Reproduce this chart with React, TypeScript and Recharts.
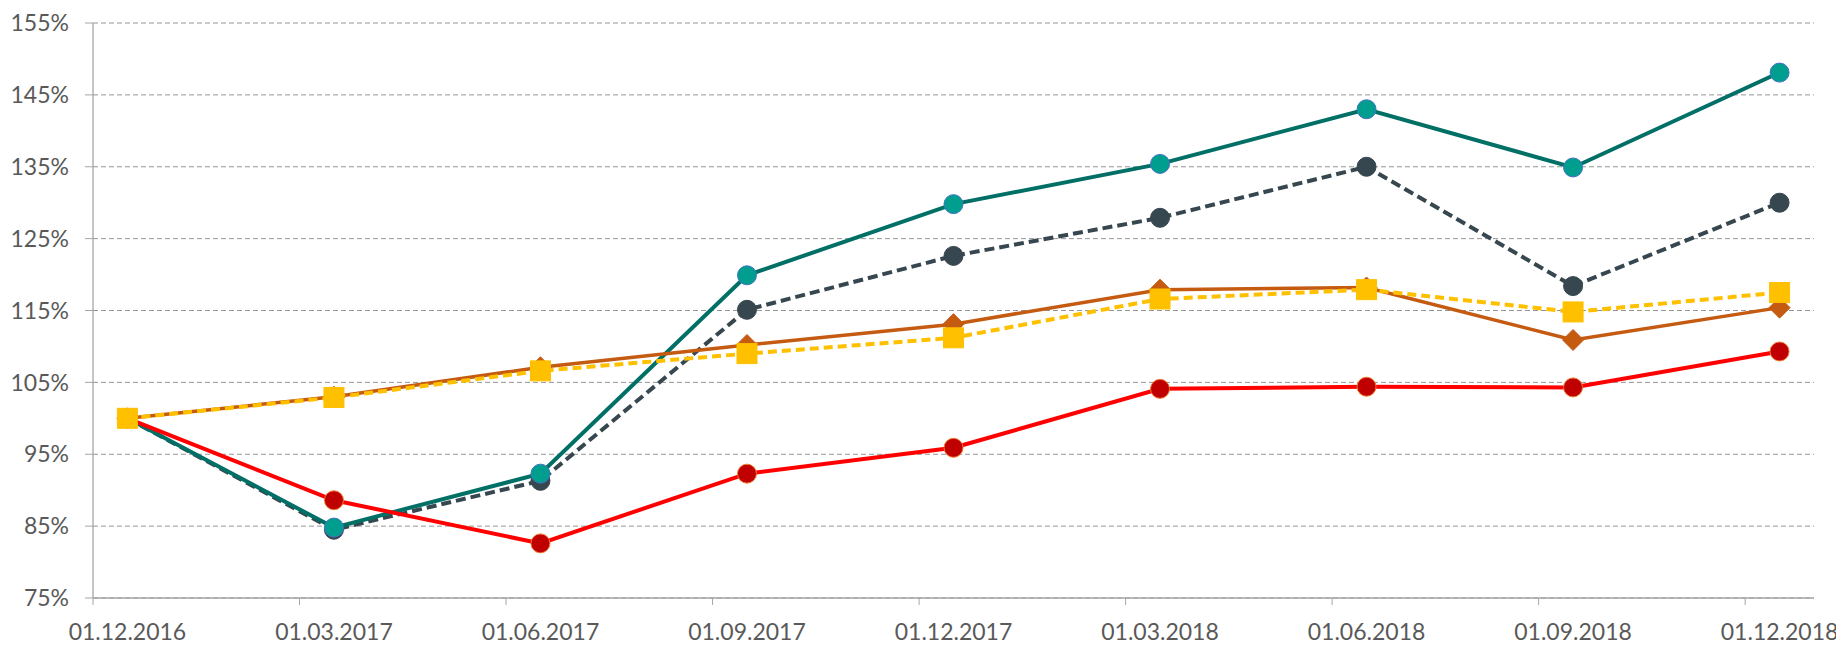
import React from 'react';
import { LineChart, Line, XAxis, YAxis, CartesianGrid } from 'recharts';

const CATEGORIES = ['01.12.2016', '01.03.2017', '01.06.2017', '01.09.2017', '01.12.2017', '01.03.2018', '01.06.2018', '01.09.2018', '01.12.2018'];
// monthly category slots between Dec 2016 and Dec 2018 (25 months); data every 3rd month
const MONTH_SLOTS = 25;
const STEP = 3;

const TEAL = [100, 84.8, 92.3, 119.9, 129.8, 135.4, 143.0, 134.9, 148.1];
const DARK = [100, 84.5, 91.3, 115.1, 122.6, 127.9, 135.0, 118.4, 130.0];
const ORANGE = [100, 103.0, 107.1, 110.2, 113.1, 117.9, 118.2, 110.9, 115.4];
const YELLOW = [100, 102.9, 106.6, 109.0, 111.2, 116.6, 117.9, 114.8, 117.5];
const RED = [100, 88.6, 82.6, 92.3, 95.9, 104.1, 104.4, 104.3, 109.3];

const Y_TICKS = [75, 85, 95, 105, 115, 125, 135, 145, 155];

const data = CATEGORIES.map((c, i) => ({
  x: i * STEP + 0.5,
  label: c,
  teal: TEAL[i],
  dark: DARK[i],
  orange: ORANGE[i],
  yellow: YELLOW[i],
  red: RED[i],
}));
const X_TICKS = data.map((d) => d.x);

const CHART_W = 1836;
const CHART_H = 637;
const MARGIN = { top: 15, right: 30, bottom: 0, left: 0 };
const Y_AXIS_W = 85;
const X_AXIS_H = 47;
const PLOT_W = CHART_W - MARGIN.left - MARGIN.right - Y_AXIS_W;
const HALF_SLOT = PLOT_W / MONTH_SLOTS / 2;

const AXIS_COLOR = '#A6A6A6';
const GRID_COLOR = '#959595';
const TEXT_COLOR = '#595959';
const FONT = 'Lato, "Open Sans", sans-serif';

const XTick = (props: any) => {
  const { x, y, payload } = props;
  const idx = Math.round((payload.value - 0.5) / STEP);
  return (
    <g>
      <line x1={x - HALF_SLOT} x2={x - HALF_SLOT} y1={y} y2={y + 7} stroke={AXIS_COLOR} strokeWidth={1} />
      <text x={x} y={y + 26} dy="0.71em" textAnchor="middle" fill={TEXT_COLOR} fontSize={23} fontFamily={FONT}>
        {CATEGORIES[idx]}
      </text>
    </g>
  );
};

const Diamond = (props: any) => {
  const { cx, cy, index } = props;
  const s = 10.5;
  return (
    <polygon
      key={`d-${index}`}
      points={`${cx},${cy - s} ${cx + s},${cy} ${cx},${cy + s} ${cx - s},${cy}`}
      fill="#C55A11"
      stroke="#C55A11"
      strokeWidth={1}
    />
  );
};

const Square = (props: any) => {
  const { cx, cy, index } = props;
  const s = 10;
  return <rect key={`s-${index}`} x={cx - s} y={cy - s} width={2 * s} height={2 * s} fill="#FFC000" stroke="#FFC000" strokeWidth={1} />;
};

export default function App() {
  return (
    <div style={{ width: CHART_W, height: CHART_H, background: '#fff' }}>
      <LineChart width={CHART_W} height={CHART_H} data={data} margin={MARGIN}>
        <CartesianGrid vertical={false} stroke={GRID_COLOR} strokeDasharray="5 3" />
        <XAxis
          dataKey="x"
          type="number"
          domain={[0, MONTH_SLOTS]}
          ticks={X_TICKS}
          interval={0}
          height={X_AXIS_H}
          tickSize={0}
          tickMargin={0}
          tickLine={false}
          axisLine={{ stroke: AXIS_COLOR, strokeWidth: 1.3 }}
          tick={<XTick />}
        />
        <YAxis
          type="number"
          domain={[75, 155]}
          ticks={Y_TICKS}
          interval={0}
          width={Y_AXIS_W}
          tickSize={8}
          tickMargin={16}
          tickLine={{ stroke: AXIS_COLOR }}
          axisLine={{ stroke: AXIS_COLOR, strokeWidth: 1.3 }}
          tickFormatter={(v: number) => `${v}%`}
          tick={{ fill: TEXT_COLOR, fontSize: 23, fontFamily: FONT }}
        />
        <Line
          dataKey="dark"
          stroke="#37474F"
          strokeWidth={4}
          strokeDasharray="10 5"
          dot={{ r: 9.5, fill: '#37474F', stroke: '#37474F', strokeWidth: 1, strokeDasharray: '' }}
          isAnimationActive={false}
        />
        <Line
          dataKey="teal"
          stroke="#007066"
          strokeWidth={4}
          dot={{ r: 9.5, fill: '#009E8F', stroke: '#4472C4', strokeWidth: 1 }}
          isAnimationActive={false}
        />
        <Line
          dataKey="red"
          stroke="#FF0000"
          strokeWidth={4}
          dot={{ r: 9.5, fill: '#C00000', stroke: '#ED7D31', strokeWidth: 1 }}
          isAnimationActive={false}
        />
        <Line dataKey="orange" stroke="#C55A11" strokeWidth={3.5} dot={<Diamond />} isAnimationActive={false} />
        <Line
          dataKey="yellow"
          stroke="#FFC000"
          strokeWidth={4}
          strokeDasharray="9 5"
          dot={<Square />}
          isAnimationActive={false}
        />
      </LineChart>
    </div>
  );
}
